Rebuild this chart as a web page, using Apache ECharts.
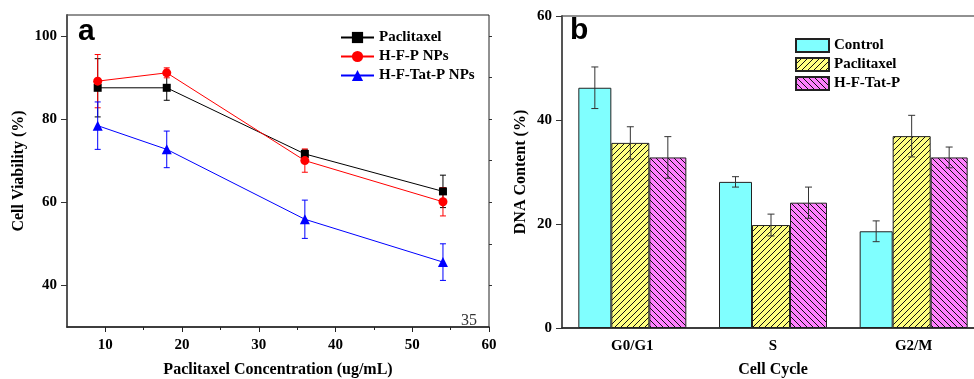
<!DOCTYPE html>
<html>
<head>
<meta charset="utf-8">
<script src="https://cdn.jsdelivr.net/npm/echarts@6/dist/echarts.min.js"></script>
<style>
html, body { margin: 0; padding: 0; background: #fff; }
#chart { width: 974px; height: 379px; }
</style>
</head>
<body>
<div id="chart"></div>
<script>
// panel a: cell viability vs concentration
const concentrations = [9, 18, 36, 54];
const paclitaxel = [87.5, 87.5, 71.6, 62.6];
const paclitaxelErr = [7, 3, 1, 3.9];
const hfpNps = [89.1, 91.1, 70.0, 60.1];
const hfpNpsErr = [6.4, 1.2, 2.8, 3.4];
const hftatpNps = [78.4, 72.7, 55.9, 45.6];
const hftatpNpsErr = [5.7, 4.4, 4.6, 4.4];
const xTicksA = [10, 20, 30, 40, 50, 60];
const xMinorA = [15, 25, 35, 45, 55];
const yTicksA = [40, 60, 80, 100];
const yMinorA = [50, 70, 90];
const yRightA = [40, 50, 60, 70, 80, 90, 100];

// panel b: cell cycle distribution
const phases = ['G0/G1', 'S', 'G2/M'];
const control = [46.2, 28.1, 18.6];
const controlErr = [4, 1, 2];
const paclitaxelB = [35.6, 19.8, 36.9];
const paclitaxelBErr = [3.1, 2.1, 4];
const hftatp = [32.8, 24.1, 32.8];
const hftatpErr = [4, 3, 2];
const yTicksB = [0, 20, 40, 60];
const yMinorB = [10, 30, 50];

const serif = '"Liberation Serif", "Times New Roman", serif';
const barWidths = [33, 38, 37];
const totalW = barWidths.reduce((a, b) => a + b, 0);
const barOffsets = barWidths.map((w, i) =>
    -totalW / 2 + barWidths.slice(0, i).reduce((a, b) => a + b, 0) + w / 2);

function hatch(bg, dir) {
    const s = 6;
    const c = document.createElement('canvas');
    c.width = s; c.height = s;
    const g = c.getContext('2d');
    g.fillStyle = bg;
    g.fillRect(0, 0, s, s);
    g.strokeStyle = '#111';
    g.lineWidth = 1;
    g.beginPath();
    if (dir > 0) {
        g.moveTo(0, s); g.lineTo(s, 0);
        g.moveTo(-1, 1); g.lineTo(1, -1);
        g.moveTo(s - 1, s + 1); g.lineTo(s + 1, s - 1);
    } else {
        g.moveTo(0, 0); g.lineTo(s, s);
        g.moveTo(s - 1, -1); g.lineTo(s + 1, 1);
        g.moveTo(-1, s - 1); g.lineTo(1, s + 1);
    }
    g.stroke();
    return c;
}

function errBars(color, cap, dx) {
    return function (params, api) {
        const x = api.value(0), y = api.value(1), e = api.value(2);
        const top = api.coord([x, y + e]);
        const bot = api.coord([x, y - e]);
        const cx = top[0] + (dx || 0);
        const st = { stroke: color, lineWidth: 1 };
        return {
            type: 'group',
            children: [
                { type: 'line', shape: { x1: cx, y1: top[1], x2: cx, y2: bot[1] }, style: st },
                { type: 'line', shape: { x1: cx - cap, y1: top[1], x2: cx + cap, y2: top[1] }, style: st },
                { type: 'line', shape: { x1: cx - cap, y1: bot[1], x2: cx + cap, y2: bot[1] }, style: st }
            ]
        };
    };
}

const pairs = (ys) => concentrations.map((x, i) => [x, ys[i]]);
const triples = (ys, es) => concentrations.map((x, i) => [x, ys[i], es[i]]);
const catTriples = (ys, es) => phases.map((p, i) => [i, ys[i], es[i]]);

const axisName = { fontFamily: serif, fontWeight: 'bold', fontSize: 16, color: '#000' };
const tickLabel = { fontFamily: serif, fontWeight: 'bold', fontSize: 15, color: '#000', margin: 10 };
const legendText = { fontFamily: serif, fontWeight: 'bold', fontSize: 15, color: '#000' };

const chart = echarts.init(document.getElementById('chart'));
chart.setOption({
    animation: false,
    backgroundColor: '#fff',
    grid: [
        { left: 67, top: 15, width: 422, height: 312, outerBoundsMode: 'none', show: true, borderColor: '#222', borderWidth: 1 },
        { left: 562, top: 16, width: 422, height: 312, outerBoundsMode: 'none', show: true, borderColor: '#222', borderWidth: 1 }
    ],
    legend: [
        {
            orient: 'vertical', left: 335, top: 25, itemGap: 4,
            itemWidth: 33, itemHeight: 14,
            textStyle: legendText,
            data: ['Paclitaxel', 'H-F-P NPs', 'H-F-Tat-P NPs']
        },
        {
            orient: 'vertical', left: 790, top: 33, itemGap: 4,
            itemWidth: 33, itemHeight: 13, icon: 'rect',
            textStyle: legendText,
            data: ['Control', 'Paclitaxel ', 'H-F-Tat-P']
        }
    ],
    xAxis: [
        {
            gridIndex: 0, type: 'value', min: 5, max: 60,
            name: 'Paclitaxel Concentration (ug/mL)', nameLocation: 'middle', nameGap: 35,
            nameTextStyle: axisName,
            axisLine: { lineStyle: { color: '#222', width: 1.5 } },
            axisTick: { customValues: xTicksA, length: 5, lineStyle: { color: '#222' } },
            axisLabel: Object.assign({ customValues: xTicksA }, tickLabel, { margin: 11 }),
            splitLine: { show: false }
        },
        {
            gridIndex: 0, type: 'value', min: 5, max: 60, position: 'bottom',
            axisLine: { show: false },
            axisTick: { customValues: xMinorA, length: 3, lineStyle: { color: '#222' } },
            axisLabel: { show: false },
            splitLine: { show: false }
        },
        {
            gridIndex: 1, type: 'category', data: phases,
            name: 'Cell Cycle', nameLocation: 'middle', nameGap: 34,
            nameTextStyle: axisName,
            axisLine: { lineStyle: { color: '#222', width: 1.5 } },
            axisTick: { alignWithLabel: true, length: 6, lineStyle: { color: '#222' } },
            axisLabel: Object.assign({}, tickLabel, { margin: 11 })
        },
        {
            gridIndex: 1, type: 'category', data: phases, position: 'bottom',
            axisLine: { show: false },
            axisTick: { length: 3, lineStyle: { color: '#222' } },
            axisLabel: { show: false }
        }
    ],
    yAxis: [
        {
            gridIndex: 0, type: 'value', min: 30, max: 105,
            name: 'Cell Viability (%)', nameLocation: 'middle', nameGap: 40,
            nameTextStyle: axisName,
            axisLine: { show: true, lineStyle: { color: '#555', width: 2 } },
            axisTick: { show: true, customValues: yTicksA, length: 6, lineStyle: { color: '#333' } },
            axisLabel: Object.assign({ customValues: yTicksA }, tickLabel),
            splitLine: { show: false }
        },
        {
            gridIndex: 0, type: 'value', min: 30, max: 105,
            axisLine: { show: false },
            axisTick: { show: true, customValues: yMinorA, length: 3, lineStyle: { color: '#333' } },
            axisLabel: { show: false },
            splitLine: { show: false }
        },
        {
            gridIndex: 0, type: 'value', min: 30, max: 105, position: 'right',
            axisLine: { show: false },
            axisTick: { show: true, customValues: yRightA, length: 3, lineStyle: { color: '#333' } },
            axisLabel: { show: false },
            splitLine: { show: false }
        },
        {
            gridIndex: 1, type: 'value', min: 0, max: 60,
            name: 'DNA Content (%)', nameLocation: 'middle', nameGap: 33,
            nameTextStyle: axisName,
            axisLine: { show: true, lineStyle: { color: '#555', width: 2 } },
            axisTick: { show: true, customValues: yTicksB, length: 6, lineStyle: { color: '#333' } },
            axisLabel: Object.assign({ customValues: yTicksB }, tickLabel),
            splitLine: { show: false }
        },
        {
            gridIndex: 1, type: 'value', min: 0, max: 60,
            axisLine: { show: false },
            axisTick: { show: true, customValues: yMinorB, length: 3, lineStyle: { color: '#333' } },
            axisLabel: { show: false },
            splitLine: { show: false }
        }
    ],
    graphic: [
        { type: 'text', left: 78, top: 17, style: { text: 'a', font: 'bold 30px "Liberation Sans", Arial, sans-serif', fill: '#000' } },
        { type: 'text', left: 570, top: 16, style: { text: 'b', font: 'bold 30px "Liberation Sans", Arial, sans-serif', fill: '#000' } },
        { type: 'text', left: 461, top: 313, style: { text: '35', font: '16px "Liberation Serif", serif', fill: '#333' } }
    ],
    series: [
        { type: 'custom', xAxisIndex: 0, yAxisIndex: 0, z: 1, renderItem: errBars('#000', 3), data: triples(paclitaxel, paclitaxelErr) },
        { type: 'custom', xAxisIndex: 0, yAxisIndex: 0, z: 1, renderItem: errBars('#f00', 3), data: triples(hfpNps, hfpNpsErr) },
        { type: 'custom', xAxisIndex: 0, yAxisIndex: 0, z: 1, renderItem: errBars('#00f', 3), data: triples(hftatpNps, hftatpNpsErr) },
        {
            name: 'Paclitaxel', type: 'line', xAxisIndex: 0, yAxisIndex: 0,
            symbol: 'rect', symbolSize: 8,
            lineStyle: { color: '#000', width: 1 }, itemStyle: { color: '#000' },
            data: pairs(paclitaxel)
        },
        {
            name: 'H-F-P NPs', type: 'line', xAxisIndex: 0, yAxisIndex: 0,
            symbol: 'circle', symbolSize: 9,
            lineStyle: { color: '#f00', width: 1 }, itemStyle: { color: '#f00' },
            data: pairs(hfpNps)
        },
        {
            name: 'H-F-Tat-P NPs', type: 'line', xAxisIndex: 0, yAxisIndex: 0,
            symbol: 'triangle', symbolSize: 10,
            lineStyle: { color: '#00f', width: 1 }, itemStyle: { color: '#00f' },
            data: pairs(hftatpNps)
        },
        {
            name: 'Control', type: 'bar', xAxisIndex: 2, yAxisIndex: 3,
            barWidth: barWidths[0], barGap: '0%',
            itemStyle: { color: '#80ffff', borderColor: '#222', borderWidth: 1 },
            data: control
        },
        {
            name: 'Paclitaxel ', type: 'bar', xAxisIndex: 2, yAxisIndex: 3,
            barWidth: barWidths[1], barGap: '0%',
            itemStyle: { color: { image: hatch('#ffff80', 1), repeat: 'repeat' }, borderColor: '#222', borderWidth: 1 },
            data: paclitaxelB
        },
        {
            name: 'H-F-Tat-P', type: 'bar', xAxisIndex: 2, yAxisIndex: 3,
            barWidth: barWidths[2], barGap: '0%',
            itemStyle: { color: { image: hatch('#ff80ff', -1), repeat: 'repeat' }, borderColor: '#222', borderWidth: 1 },
            data: hftatp
        },
        { type: 'custom', xAxisIndex: 2, yAxisIndex: 3, z: 5, renderItem: errBars('#333', 3.5, barOffsets[0]), data: catTriples(control, controlErr) },
        { type: 'custom', xAxisIndex: 2, yAxisIndex: 3, z: 5, renderItem: errBars('#333', 3.5, barOffsets[1]), data: catTriples(paclitaxelB, paclitaxelBErr) },
        { type: 'custom', xAxisIndex: 2, yAxisIndex: 3, z: 5, renderItem: errBars('#333', 3.5, barOffsets[2]), data: catTriples(hftatp, hftatpErr) }
    ]
});
</script>
</body>
</html>
